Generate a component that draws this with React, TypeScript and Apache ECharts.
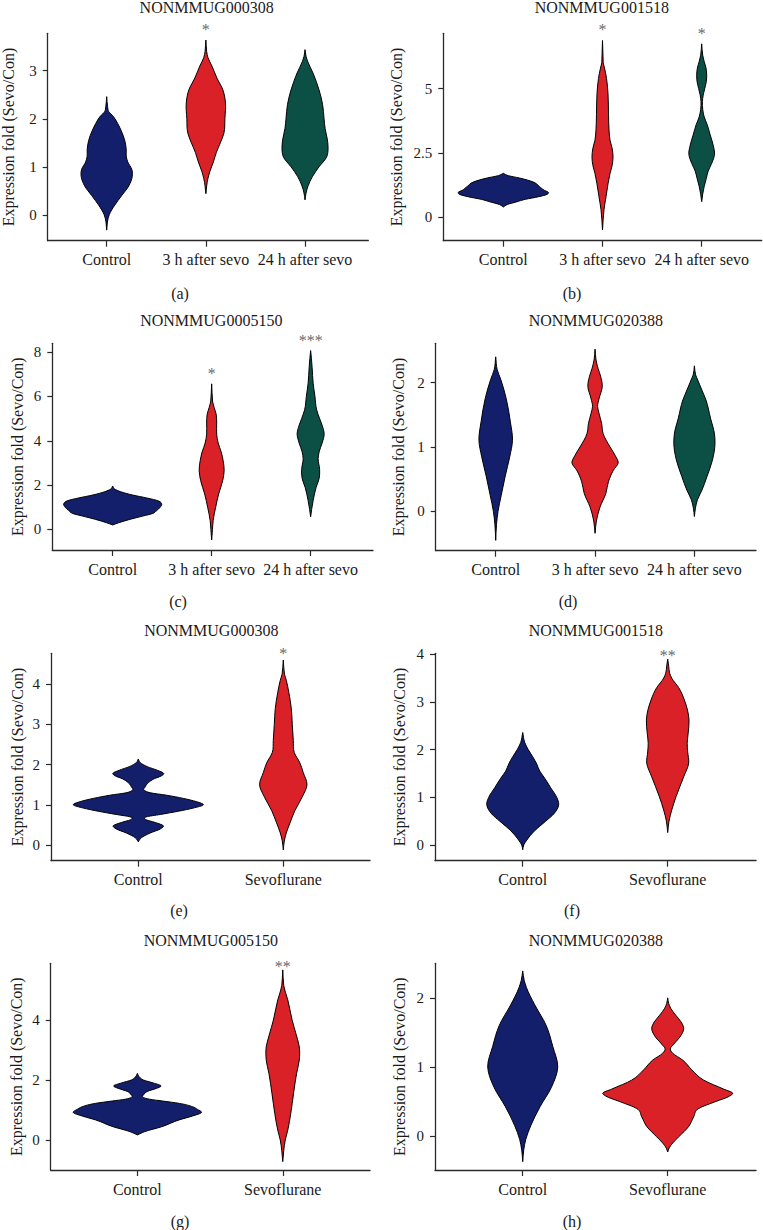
import React, { useEffect, useRef } from "react";
import * as echarts from "echarts";

// ---------------- data ----------------
const groups3 = ["Control", "3 h after sevo", "24 h after sevo"];
const groups2 = ["Control", "Sevoflurane"];
const yAxisName = "Expression fold (Sevo/Con)";

const titles = [
  "NONMMUG000308",
  "NONMMUG001518",
  "NONMMUG0005150",
  "NONMMUG020388",
  "NONMMUG000308",
  "NONMMUG001518",
  "NONMMUG005150",
  "NONMMUG020388",
];
const captions = ["(a)", "(b)", "(c)", "(d)", "(e)", "(f)", "(g)", "(h)"];

// y tick labels per panel
const ticksA = [0, 1, 2, 3];
const ticksB = [0, 2.5, 5];
const ticksC = [0, 2, 4, 6, 8];
const ticksD = [0, 1, 2];
const ticksE = [0, 1, 2, 3, 4];
const ticksF = [0, 1, 2, 3, 4];
const ticksG = [0, 2, 4];
const ticksH = [0, 1, 2];

// violin profiles: [value, density (half width)]
const a_control = [[-0.32, 0], [-0.15, 0.7], [0.0, 2.5], [0.2, 8], [0.4, 15], [0.6, 22], [0.8, 25.5], [0.95, 25], [1.1, 21], [1.22, 19.5], [1.35, 19.5], [1.55, 18], [1.75, 14.5], [1.9, 11], [2.05, 6.5], [2.15, 2], [2.25, 0.9], [2.46, 0]];
const a_3h = [[0.44, 0], [0.6, 0.8], [0.75, 2], [0.9, 4], [1.1, 7.5], [1.3, 10.5], [1.5, 14.5], [1.7, 18], [2.0, 19], [2.35, 19.5], [2.6, 17], [2.85, 11], [3.1, 6], [3.28, 2], [3.4, 0.8], [3.64, 0]];
const a_24h = [[0.31, 0], [0.45, 1], [0.6, 3], [0.8, 7.5], [1.0, 14], [1.2, 21.5], [1.4, 23], [1.6, 22], [1.8, 20], [2.0, 19], [2.3, 17.5], [2.6, 14], [2.95, 8], [3.2, 2.5], [3.3, 1], [3.44, 0]];

const b_control = [[0.4, 0], [0.5, 4], [0.6, 13], [0.7, 22], [0.8, 35], [0.9, 44], [0.97, 45], [1.05, 41], [1.2, 36], [1.37, 30], [1.45, 24], [1.53, 16], [1.62, 5], [1.71, 0]];
const b_3h = [[-0.49, 0], [-0.1, 0.6], [0.3, 1.5], [0.8, 3.5], [1.3, 5.5], [1.7, 7.5], [2.0, 9.5], [2.35, 10.5], [2.7, 9.5], [3.0, 7.5], [3.4, 6.5], [4.0, 6], [4.8, 5.5], [5.4, 4], [5.8, 2], [6.0, 0.7], [6.87, 0]];
const b_24h = [[0.61, 0], [0.9, 1], [1.2, 2.5], [1.5, 4.5], [1.8, 6.5], [2.1, 10], [2.45, 12.8], [2.8, 11.5], [3.2, 8.5], [3.6, 5.5], [3.9, 2.5], [4.2, 1], [4.5, 0.7], [4.75, 1.5], [5.0, 3], [5.25, 4.5], [5.5, 5], [5.8, 4.3], [6.05, 2.5], [6.3, 1], [6.74, 0]];

const c_control = [[0.2, 0], [0.3, 6], [0.45, 17], [0.6, 30], [0.72, 40], [0.85, 44], [1.0, 47.5], [1.15, 49], [1.28, 46], [1.42, 34], [1.55, 20], [1.7, 8], [1.82, 2], [1.96, 0]];
const c_3h = [[-0.48, 0], [0.0, 0.8], [0.4, 1.5], [1.0, 4], [1.6, 7], [2.2, 11], [2.65, 12.5], [3.1, 11.5], [3.5, 9.5], [3.9, 6.5], [4.3, 5], [4.8, 5], [5.2, 4.5], [5.5, 2.5], [5.75, 1], [6.57, 0]];
const c_24h = [[0.57, 0], [0.9, 1], [1.3, 2.5], [1.9, 5.5], [2.3, 8.5], [2.7, 9], [3.2, 7.5], [3.5, 8.5], [3.9, 11.5], [4.3, 13.5], [4.7, 11.5], [5.0, 9], [5.4, 6], [6.0, 4.3], [6.6, 2.5], [7.3, 1.5], [7.7, 0.8], [8.07, 0]];

const d_control = [[-0.45, 0], [-0.2, 0.8], [0.0, 2.3], [0.25, 5.5], [0.55, 9.5], [0.85, 14], [1.1, 16.7], [1.4, 14.5], [1.75, 10.5], [2.05, 5], [2.2, 1.5], [2.4, 0]];
const d_3h = [[-0.34, 0], [-0.15, 1.3], [0.07, 5], [0.28, 10.8], [0.46, 13.3], [0.64, 18.3], [0.75, 23], [0.87, 20], [1.0, 15], [1.21, 8], [1.37, 6.5], [1.52, 4], [1.63, 2.5], [1.75, 4], [1.95, 7.2], [2.1, 5.5], [2.22, 3], [2.35, 1], [2.52, 0]];
const d_24h = [[-0.08, 0], [0.05, 1], [0.18, 3], [0.33, 7.5], [0.54, 12.5], [0.8, 18], [1.05, 20.5], [1.2, 20], [1.45, 16], [1.73, 11.5], [1.9, 7], [2.04, 3.3], [2.12, 1.2], [2.26, 0]];

const e_control = [[0.08, 0], [0.18, 3], [0.3, 12], [0.4, 22], [0.48, 25], [0.56, 17], [0.64, 7], [0.7, 8], [0.76, 22], [0.84, 40], [0.92, 55], [1.0, 65], [1.08, 58], [1.16, 45], [1.24, 28], [1.3, 12], [1.36, 6], [1.45, 7], [1.55, 10], [1.65, 16], [1.72, 23], [1.78, 25.5], [1.86, 19], [1.95, 9], [2.05, 2], [2.14, 0]];
const e_sevo = [[-0.12, 0], [0.1, 1], [0.3, 3], [0.55, 6.7], [0.85, 11.5], [1.2, 19], [1.5, 23.7], [1.8, 20], [2.05, 16.5], [2.3, 11], [2.6, 10], [3.0, 9], [3.4, 8], [3.8, 5.5], [4.1, 3], [4.25, 1.2], [4.6, 0]];

const f_control = [[-0.1, 0], [0.0, 1], [0.1, 4], [0.3, 12], [0.5, 23], [0.65, 31], [0.85, 36], [1.0, 34], [1.2, 28], [1.4, 22], [1.55, 17], [1.7, 14], [1.85, 10], [2.0, 5.5], [2.15, 2], [2.36, 0]];
const f_sevo = [[0.26, 0], [0.5, 1.3], [0.73, 4], [1.01, 8.3], [1.43, 16], [1.72, 21], [1.95, 20], [2.13, 19.5], [2.35, 20.5], [2.62, 21.3], [3.04, 16.7], [3.3, 11], [3.5, 4], [3.6, 2], [3.75, 1], [3.9, 0]];

const g_control = [[0.17, 0], [0.28, 7.5], [0.44, 24], [0.67, 41.7], [0.8, 55], [0.92, 64], [1.02, 60], [1.11, 55], [1.22, 42], [1.3, 25], [1.36, 12], [1.42, 6], [1.52, 6.5], [1.62, 10], [1.72, 19], [1.8, 23.7], [1.9, 16], [2.0, 6], [2.1, 2], [2.22, 0]];
const g_sevo = [[-0.72, 0], [-0.35, 1], [0.0, 2.5], [0.33, 5], [0.89, 8], [1.56, 10.8], [2.22, 13.8], [2.67, 16.5], [3.1, 16.5], [3.5, 13.5], [4.0, 9.3], [4.67, 5], [5.0, 2], [5.15, 1], [5.67, 0]];

const h_control = [[-0.37, 0], [-0.2, 1], [-0.05, 3], [0.15, 8], [0.43, 17.5], [0.7, 28.5], [1.0, 35], [1.3, 30], [1.6, 23.5], [1.9, 12], [2.15, 3.7], [2.25, 1.5], [2.39, 0]];
const h_sevo = [[-0.23, 0], [-0.17, 1.5], [-0.1, 5], [-0.01, 11], [0.14, 21], [0.28, 26], [0.4, 31], [0.5, 48], [0.58, 62], [0.62, 65], [0.68, 56], [0.81, 36], [0.96, 24], [1.1, 15], [1.2, 5], [1.26, 2.5], [1.33, 6], [1.45, 13], [1.56, 16], [1.66, 13], [1.75, 8], [1.85, 3], [1.92, 1], [2.0, 0]];

// significance marks: [group index, value, text]
const starsA: [number, number, string][] = [[1, 3.92, "*"]];
const starsB: [number, number, string][] = [[1, 7.41, "*"], [2, 7.25, "*"]];
const starsC: [number, number, string][] = [[1, 7.17, "*"], [2, 8.66, "***"]];
const starsD: [number, number, string][] = [];
const starsE: [number, number, string][] = [[1, 4.84, "*"]];
const starsF: [number, number, string][] = [[1, 4.03, "**"]];
const starsG: [number, number, string][] = [[1, 5.89, "**"]];
const starsH: [number, number, string][] = [];

// ---------------- styling / layout ----------------
const FONT = "Liberation Serif, Times New Roman, serif";
const NAVY = "#131f6b";
const RED = "#d92127";
const GREEN = "#0c5045";
const AXIS = "#2a2a2a";
const TEXT = "#1a1a1a";

type Panel = {
  cats: string[];
  violins: number[][][];
  colors: string[];
  ticks: number[];
  stars: [number, number, string][];
  box: { l: number; t: number; r: number; b: number };
  y: [number, number];
  x: [number, number];
  nameGap: number;
  titleX: number;
  titleY: number;
  cap: [number, number];
  unit: number;
};

const PANELS: Panel[] = [
  { cats: groups3, violins: [a_control, a_3h, a_24h], colors: [NAVY, RED, GREEN], ticks: ticksA, stars: starsA, box: { l: 47.7, t: 33.3, r: 368.3, b: 240.7 }, y: [-0.54, 3.78], x: [-0.595, 2.638], nameGap: 31, titleX: 206.7, titleY: 7, cap: [180, 293], unit: 99 },
  { cats: groups3, violins: [b_control, b_3h, b_24h], colors: [NAVY, RED, GREEN], ticks: ticksB, stars: starsB, box: { l: 443.3, t: 33.3, r: 761.7, b: 240.7 }, y: [-0.907, 7.15], x: [-0.605, 2.605], nameGap: 39, titleX: 601.8, titleY: 7, cap: [572, 293], unit: 99 },
  { cats: groups3, violins: [c_control, c_3h, c_24h], colors: [NAVY, RED, GREEN], ticks: ticksC, stars: starsC, box: { l: 52.3, t: 343.3, r: 373, b: 550 }, y: [-0.93, 8.4], x: [-0.61, 2.63], nameGap: 27, titleX: 211.3, titleY: 320.5, cap: [178, 601.7], unit: 99 },
  { cats: groups3, violins: [d_control, d_3h, d_24h], colors: [NAVY, RED, GREEN], ticks: ticksD, stars: starsD, box: { l: 435.7, t: 343.3, r: 756, b: 550.7 }, y: [-0.61, 2.61], x: [-0.604, 2.62], nameGap: 29, titleX: 595.8, titleY: 320.7, cap: [568, 601.7], unit: 99 },
  { cats: groups2, violins: [e_control, e_sevo], colors: [NAVY, RED], ticks: ticksE, stars: starsE, box: { l: 51, t: 653.3, r: 370, b: 860.7 }, y: [-0.39, 4.77], x: [-0.602, 1.598], nameGap: 26, titleX: 211.3, titleY: 630.7, cap: [179, 910], unit: 145 },
  { cats: groups2, violins: [f_control, f_sevo], colors: [NAVY, RED], ticks: ticksF, stars: starsF, box: { l: 435, t: 653.3, r: 756, b: 860.7 }, y: [-0.33, 4.02], x: [-0.605, 1.609], nameGap: 28, titleX: 595.8, titleY: 630.7, cap: [572, 910], unit: 145 },
  { cats: groups2, violins: [g_control, g_sevo], colors: [NAVY, RED], ticks: ticksG, stars: starsG, box: { l: 50.7, t: 963.3, r: 370, b: 1170 }, y: [-1.0, 5.89], x: [-0.596, 1.6], nameGap: 26, titleX: 210.8, titleY: 940.7, cap: [180, 1221.7], unit: 145 },
  { cats: groups2, violins: [h_control, h_sevo], colors: [NAVY, RED], ticks: ticksH, stars: starsH, box: { l: 435, t: 963.3, r: 756, b: 1170 }, y: [-0.49, 2.5], x: [-0.605, 1.609], nameGap: 28, titleX: 595.8, titleY: 940.7, cap: [572, 1221.7], unit: 145 },
];

// smooth cubic outline (x as a function of pixel height), mirrored about the centre
function violinPath(pts: { x: number; y: number }[], cx: number): string {
  const n = pts.length;
  const t = pts.map((p) => -p.y);
  const x = pts.map((p) => p.x);
  const h: number[] = [];
  const s: number[] = [];
  for (let i = 0; i < n - 1; i++) {
    h[i] = t[i + 1] - t[i];
    s[i] = h[i] !== 0 ? (x[i + 1] - x[i]) / h[i] : 0;
  }
  const m: number[] = new Array(n).fill(0);
  m[0] = s[0];
  m[n - 1] = s[n - 2];
  for (let i = 1; i < n - 1; i++) {
    // weighted (non-uniform Catmull-Rom) tangent
    m[i] = (s[i - 1] * h[i] + s[i] * h[i - 1]) / (h[i - 1] + h[i]);
  }
  const minX = cx + 0.35;
  const segs: number[][] = [];
  for (let i = 0; i < n - 1; i++) {
    let c1x = x[i] + (m[i] * h[i]) / 3;
    const c1t = t[i] + h[i] / 3;
    let c2x = x[i + 1] - (m[i + 1] * h[i]) / 3;
    const c2t = t[i + 1] - h[i] / 3;
    if (i > 0) c1x = Math.max(c1x, minX);
    if (i < n - 2) c2x = Math.max(c2x, minX);
    segs.push([c1x, -c1t, c2x, -c2t]);
  }
  const f = (v: number) => v.toFixed(2);
  let d = `M${f(x[0])} ${f(-t[0])}`;
  for (let i = 0; i < n - 1; i++) {
    const sg = segs[i];
    d += ` C${f(sg[0])} ${f(sg[1])} ${f(sg[2])} ${f(sg[3])} ${f(x[i + 1])} ${f(-t[i + 1])}`;
  }
  const mx = (v: number) => 2 * cx - v;
  for (let i = n - 2; i >= 0; i--) {
    const sg = segs[i];
    d += ` C${f(mx(sg[2]))} ${f(sg[3])} ${f(mx(sg[0]))} ${f(sg[1])} ${f(mx(x[i]))} ${f(-t[i])}`;
  }
  return d + " Z";
}

function buildOption() {
  const grid: any[] = [];
  const xAxis: any[] = [];
  const yAxis: any[] = [];
  const series: any[] = [];
  const graphic: any[] = [];

  PANELS.forEach((p, k) => {
    grid.push({
      left: p.box.l,
      top: p.box.t,
      width: p.box.r - p.box.l,
      height: p.box.b - p.box.t,
      containLabel: false,
      outerBoundsMode: "none",
    });
    const catIdx = p.cats.map((_, i) => i);
    xAxis.push({
      gridIndex: k,
      type: "value",
      min: p.x[0],
      max: p.x[1],
      splitLine: { show: false },
      axisLine: { show: true, onZero: false, lineStyle: { color: AXIS, width: 1.3 } },
      axisTick: { show: true, customValues: catIdx, length: 6, lineStyle: { color: AXIS, width: 1.2 } },
      axisLabel: {
        customValues: catIdx,
        formatter: (v: number) => p.cats[Math.round(v)] ?? "",
        margin: 11,
        fontFamily: FONT,
        fontSize: 16,
        color: TEXT,
      },
    });
    yAxis.push({
      gridIndex: k,
      type: "value",
      min: p.y[0],
      max: p.y[1],
      splitLine: { show: false },
      axisLine: { show: true, onZero: false, lineStyle: { color: AXIS, width: 1.3 } },
      axisTick: { show: true, customValues: p.ticks, length: 5, lineStyle: { color: AXIS, width: 1.2 } },
      axisLabel: {
        customValues: p.ticks,
        margin: 11,
        fontFamily: FONT,
        fontSize: 15,
        color: TEXT,
      },
      name: yAxisName,
      nameLocation: "middle",
      nameGap: p.nameGap,
      nameTextStyle: { fontFamily: FONT, fontSize: 16, color: TEXT },
    });

    series.push({
      type: "custom",
      coordinateSystem: "cartesian2d",
      xAxisIndex: k,
      yAxisIndex: k,
      silent: true,
      clip: false,
      data: p.violins.map((v, i) => [i, v[0][0], v[v.length - 1][0]]),
      encode: { x: 0, y: [1, 2] },
      renderItem: (params: any, api: any) => {
        const i = params.dataIndex;
        const prof = p.violins[i];
        const pts = prof.map(([val, dens]) => {
          const c = api.coord([i + dens / p.unit, val]);
          return { x: c[0], y: c[1] };
        });
        const cx = api.coord([i, 0])[0];
        return {
          type: "path",
          shape: { pathData: violinPath(pts, cx) },
          style: { fill: p.colors[i], stroke: "#000", lineWidth: 1 },
        };
      },
    });

    if (p.stars.length) {
      series.push({
        type: "custom",
        coordinateSystem: "cartesian2d",
        xAxisIndex: k,
        yAxisIndex: k,
        silent: true,
        clip: false,
        data: p.stars.map((s) => [s[0], s[1]]),
        encode: { x: 0, y: 1 },
        renderItem: (params: any, api: any) => {
          const s = p.stars[params.dataIndex];
          const c = api.coord([s[0], s[1]]);
          return {
            type: "text",
            x: c[0],
            y: c[1] + 3,
            style: {
              text: s[2],
              fill: "#6a6a6a",
              font: `16px ${FONT}`,
              align: "center",
              verticalAlign: "middle",
              textAlign: "center",
              textVerticalAlign: "middle",
            },
          };
        },
      });
    }

    graphic.push({
      type: "text",
      x: p.titleX,
      y: p.titleY,
      silent: true,
      style: {
        text: titles[k],
        fill: TEXT,
        font: `16px ${FONT}`,
        align: "center",
        verticalAlign: "middle",
        textAlign: "center",
        textVerticalAlign: "middle",
      },
    });
    graphic.push({
      type: "text",
      x: p.cap[0],
      y: p.cap[1],
      silent: true,
      style: {
        text: captions[k],
        fill: TEXT,
        font: `16px ${FONT}`,
        align: "center",
        verticalAlign: "middle",
        textAlign: "center",
        textVerticalAlign: "middle",
      },
    });
  });

  return {
    animation: false,
    backgroundColor: "#ffffff",
    textStyle: { fontFamily: FONT },
    grid,
    xAxis,
    yAxis,
    series,
    graphic,
  };
}

export default function App() {
  const ref = useRef<HTMLDivElement>(null);
  useEffect(() => {
    document.body.style.margin = "0";
    const chart = echarts.init(ref.current as HTMLDivElement, null, { renderer: "svg" });
    chart.setOption(buildOption() as any);
    return () => chart.dispose();
  }, []);
  return <div ref={ref} style={{ width: 763, height: 1230, background: "#fff" }} />;
}
